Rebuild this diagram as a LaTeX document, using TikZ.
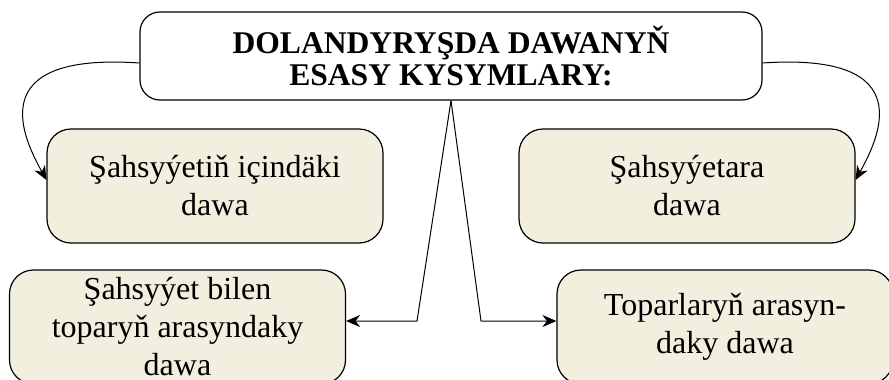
\documentclass[tikz,border=0pt]{standalone}
\usepackage{fontspec}
\setmainfont{Liberation Serif}
\usepackage{tikz}
\usetikzlibrary{arrows.meta,positioning}
\definecolor{boxfill}{RGB}{242,239,223}

\begin{document}
\begin{tikzpicture}[x=0.5pt,y=0.5pt,
    every node/.style={inner sep=0pt},
    titlebox/.style={draw, rounded corners=10pt, line width=0.6pt,
        minimum width=311pt, minimum height=44pt, align=center,
        font=\fontsize{15.8}{15.8}\selectfont\bfseries},
    kindbox/.style={draw, fill=boxfill, rounded corners=12pt, line width=0.6pt,
        minimum width=168pt, minimum height=57pt, align=center,
        font=\fontsize{16}{19}\selectfont},
    link/.style={-{Stealth[length=7pt,width=6pt]}, line width=0.5pt}]
    \path[use as bounding box, clip] (0,0) rectangle (889,-380);
    % boxes
    \node[titlebox] (esas) at (451,-56) {DOLANDYRYŞDA DAWANYŇ\\ESASY KYSYMLARY:};
    \node[kindbox] (icki) at (215,-186) {Şahsyýetiň içindäki\\dawa};
    \node[kindbox] (arasy) at (687,-186) {Şahsyýetara\\dawa};
    \node[kindbox] (shtop) at (177.5,-327) {Şahsyýet bilen\\toparyň arasyndaky\\dawa};
    \node[kindbox] (toplar) at (725,-327) {Toparlaryň arasyn-\\daky dawa};
    % bends of the lower links
    \coordinate (knl) at (417,-321);
    \coordinate (knr) at (481,-321);
    % links
    \draw[link] ([yshift=-3.5pt]esas.west) .. controls +(-160,11) and +(-22,40) .. ([yshift=3pt]icki.west);
    \draw[link] ([yshift=-3.5pt]esas.east) .. controls +(160,11) and +(22,40) .. ([yshift=3pt]arasy.east);
    \draw[link] (esas.south) -- (knl) -- (knl -| shtop.east);
    \draw[link] (esas.south) -- (knr) -- (knr -| toplar.west);
\end{tikzpicture}
\end{document}
